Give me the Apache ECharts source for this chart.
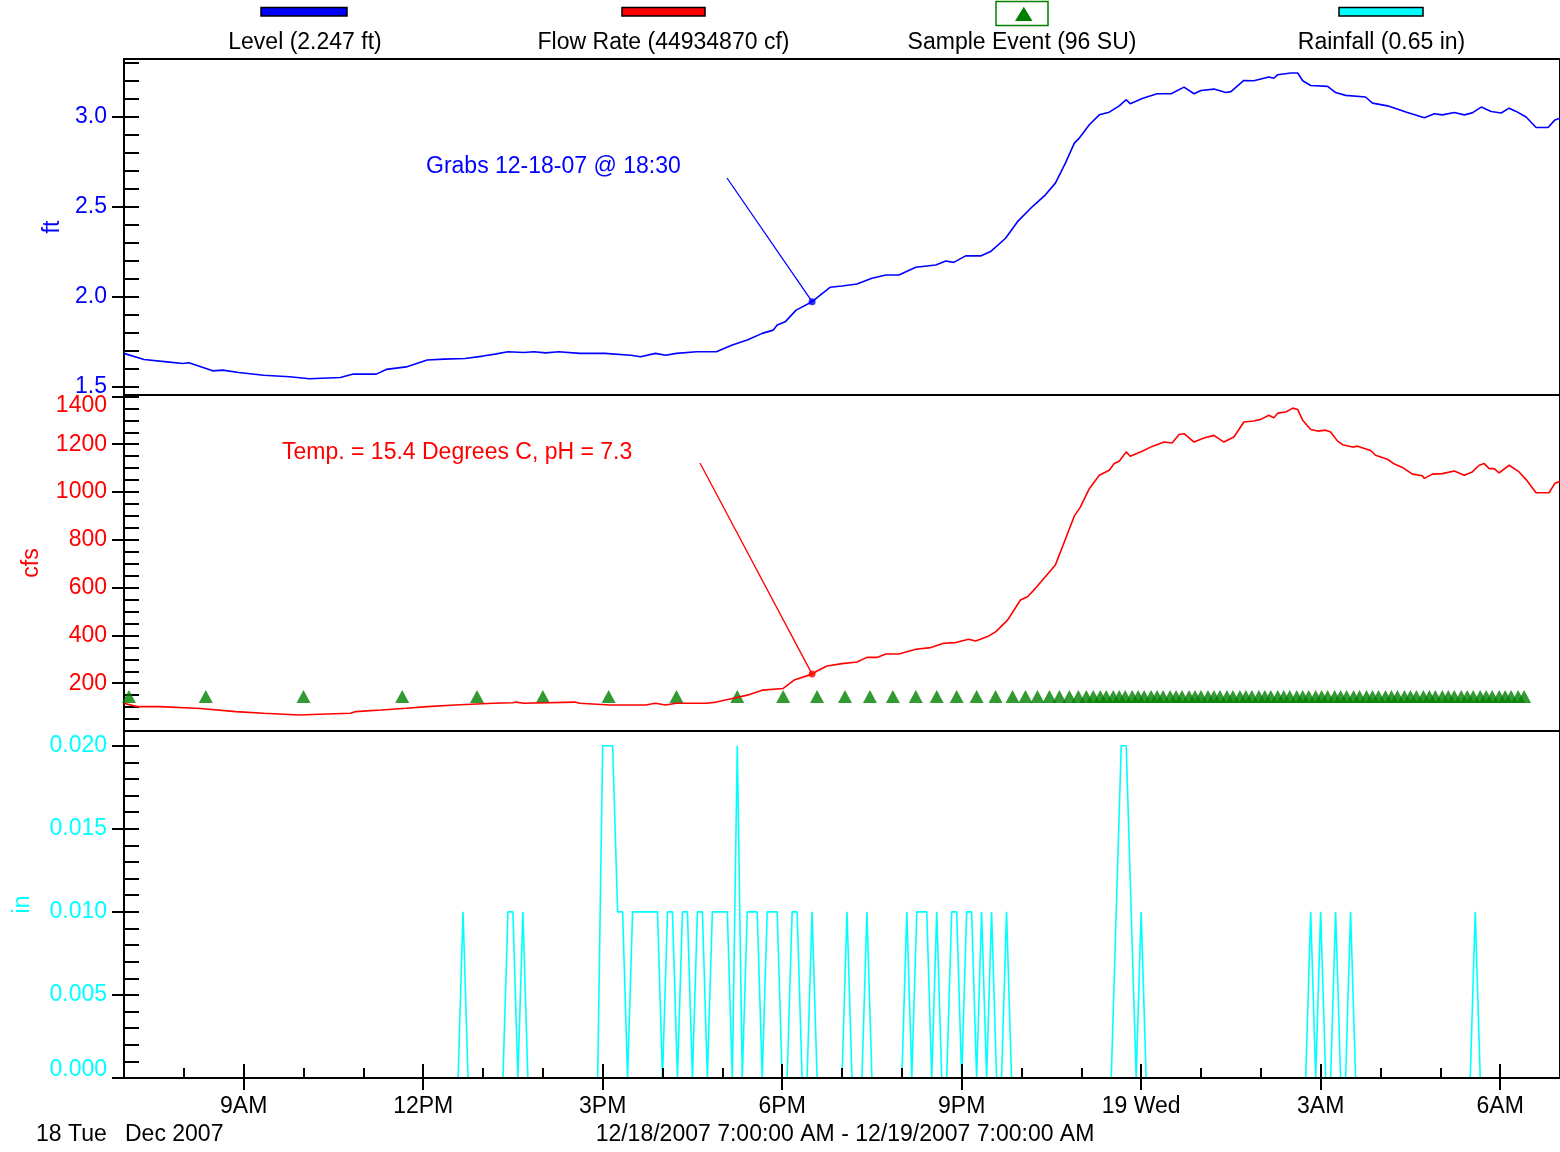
<!DOCTYPE html>
<html><head><meta charset="utf-8">
<script src="https://cdn.jsdelivr.net/npm/echarts@6/dist/echarts.min.js"></script>
<style>html,body{margin:0;padding:0;background:#fff}#c{width:1560px;height:1152px}</style>
</head><body><div id="c"></div>
<script>
// ---- data (minutes after 12/18/2007 7:00 AM) ----
const levelMinutes = [0,20,43,59,65,89,99,115,140,166,186,217,230,253,263,283,304,321,342,360,372,385,401,411,423,436,457,482,508,518,533,543,554,574,594,610,625,640,651,655,663,674,690,708,720,735,750,764,777,794,814,824,832,844,859,869,884,896,911,924,934,944,953,958,968,978,988,998,1005,1009,1021,1036,1050,1063,1073,1080,1093,1105,1110,1123,1133,1148,1153,1157,1170,1177,1182,1190,1207,1215,1225,1245,1252,1267,1287,1304,1314,1322,1334,1344,1352,1361,1371,1381,1389,1396,1406,1416,1428,1435,1440];
const levelFt = [1.685,1.651,1.638,1.629,1.633,1.588,1.592,1.579,1.564,1.555,1.544,1.551,1.570,1.570,1.596,1.610,1.648,1.653,1.657,1.670,1.681,1.694,1.690,1.694,1.688,1.694,1.685,1.685,1.675,1.666,1.685,1.675,1.685,1.694,1.694,1.731,1.759,1.796,1.814,1.842,1.860,1.925,1.972,2.052,2.059,2.070,2.102,2.120,2.120,2.163,2.176,2.198,2.190,2.226,2.226,2.250,2.324,2.416,2.500,2.565,2.630,2.741,2.852,2.880,2.954,3.009,3.024,3.059,3.093,3.071,3.100,3.126,3.126,3.163,3.126,3.144,3.152,3.133,3.138,3.200,3.198,3.219,3.212,3.232,3.241,3.241,3.198,3.172,3.167,3.133,3.117,3.108,3.074,3.059,3.022,2.993,3.015,3.009,3.022,3.009,3.020,3.052,3.028,3.019,3.046,3.028,2.997,2.939,2.939,2.981,2.990];

const flowMinutes = [0,13,36,38,77,79,112,140,176,196,227,232,258,283,304,332,370,390,393,401,452,457,487,523,533,543,554,584,594,610,625,640,661,672,690,695,705,720,735,745,755,764,777,794,809,822,834,847,854,866,874,886,899,906,914,934,941,953,959,968,978,988,993,998,1005,1009,1021,1031,1043,1051,1058,1063,1073,1083,1093,1103,1113,1123,1133,1140,1148,1153,1157,1165,1172,1177,1182,1190,1197,1205,1210,1217,1222,1232,1237,1250,1255,1267,1274,1282,1292,1302,1304,1312,1322,1334,1344,1352,1359,1364,1369,1374,1379,1389,1399,1406,1416,1429,1435,1440];
const flowCfs = [116,102,102,94,94,88,81,74,67,70,74,81,88,95,102,109,116,118,121,116,121,116,109,109,116,109,116,116,121,136,150,171,178,213,238,251,272,282,289,308,308,322,322,342,349,367,370,384,377,395,415,464,548,562,597,695,770,900,937,1014,1070,1091,1119,1129,1168,1150,1171,1191,1209,1205,1241,1244,1209,1226,1237,1209,1230,1293,1297,1304,1321,1311,1330,1335,1351,1345,1300,1262,1255,1259,1251,1213,1198,1188,1192,1174,1154,1137,1117,1103,1075,1068,1057,1075,1077,1088,1070,1084,1112,1119,1098,1098,1080,1112,1084,1052,997,997,1037,1045];

const sampleMinutes = [5,82,180,279,354,420,486,554,615,661,695,723,748,771,794,815,835,855,874,891,904,916,928,938,948,957,965,972,979,985,992,998,1004,1011,1017,1023,1030,1036,1042,1049,1055,1061,1068,1074,1080,1087,1093,1099,1106,1112,1119,1125,1131,1138,1144,1150,1157,1163,1169,1176,1182,1188,1195,1201,1207,1214,1220,1226,1233,1239,1246,1252,1258,1265,1271,1277,1284,1290,1296,1303,1309,1315,1322,1328,1334,1341,1347,1353,1360,1366,1372,1379,1385,1391,1398,1404];
const sampleMarkerCfs = 144;

const rainMinutes = [0,335,340,345,380,385,390,395,400,405,475,480,490,495,500,505,510,535,540,545,550,555,560,565,570,575,580,585,590,605,610,615,620,625,635,640,645,655,660,665,670,675,680,685,690,695,720,725,730,740,745,750,780,785,790,795,805,810,815,820,825,830,835,840,845,850,855,860,865,870,875,880,885,890,990,1000,1005,1015,1020,1025,1185,1190,1195,1200,1205,1210,1215,1220,1225,1230,1235,1350,1355,1360,1440];
const rainInches = [0,0,0.01,0,0,0.01,0.01,0,0.01,0,0,0.02,0.02,0.01,0.01,0,0.01,0.01,0,0.01,0.01,0,0.01,0.01,0,0.01,0.01,0,0.01,0.01,0,0.02,0,0.01,0.01,0,0.01,0.01,0,0,0.01,0.01,0,0,0.01,0,0,0.01,0,0,0.01,0,0,0.01,0,0.01,0.01,0,0.01,0,0,0.01,0.01,0,0.01,0.01,0,0.01,0,0.01,0,0,0.01,0,0,0.02,0.02,0,0.01,0,0,0.01,0,0.01,0,0,0.01,0,0,0.01,0,0,0.01,0,0];

const grabMinute = 690;
const xTickMinutes = [120,300,480,660,840,1020,1200,1380];
const xTickLabels = ['9AM','12PM','3PM','6PM','9PM','19 Wed','3AM','6AM'];
const levelLabelValues = [1.5,2.0,2.5,3.0];
const flowLabelValues = [200,400,600,800,1000,1200,1400];
const rainLabelValues = [0,0.005,0.010,0.015,0.020];
const legendLabels = ['Level (2.247 ft)','Flow Rate (44934870 cf)','Sample Event (96 SU)','Rainfall (0.65 in)'];
const grabLevelText = 'Grabs 12-18-07 @ 18:30';
const grabFlowText = 'Temp. = 15.4 Degrees C, pH = 7.3';
const dayText = '18 Tue';
const monthText = 'Dec 2007';
const rangeText = '12/18/2007 7:00:00 AM - 12/19/2007 7:00:00 AM';

// ---- helpers ----
const FONT = "'Liberation Sans', Arial, sans-serif";
const BLUE = '#0000ff', RED = '#ff0000', CYAN = '#00ffff', GREEN = '#008000';
function steps(from, to, step){ const a=[]; const n=Math.round((to-from)/step); for(let i=0;i<=n;i++) a.push(+(from+i*step).toFixed(6)); return a; }
function hourTicks(){ const a=[]; for(let h=1;h<24;h++) a.push(h*60); return a; }
const zip = (xs, ys) => xs.map((x,i)=>[x, ys[i]]);
const tickStyle = {color:'#000', width:2};

const chart = echarts.init(document.getElementById('c'), null, {renderer:'canvas'});

function mainY(grid, min, max, minor, labels, color, fmt, name, gap, rich){
  return {gridIndex:grid, type:'value', position:'left', min:min, max:max,
    name:name, nameLocation:'middle', nameGap:gap, nameRotate:90,
    nameTextStyle:{color:color, fontSize:23, fontFamily:FONT},
    axisLine:{show:true, lineStyle:tickStyle},
    axisTick:{show:true, inside:true, length:15, customValues:minor, lineStyle:tickStyle},
    axisLabel:{show:true, customValues:labels, color:color, fontSize:23, fontFamily:FONT, margin:17, formatter:fmt, rich:rich||{}},
    splitLine:{show:false}};
}
function outerY(grid, min, max, labels){
  return {gridIndex:grid, type:'value', position:'left', min:min, max:max,
    axisLine:{show:false},
    axisTick:{show:true, inside:false, length:12, customValues:labels, lineStyle:tickStyle},
    axisLabel:{show:false}, splitLine:{show:false}};
}
const gridBox = {left:124, width:1440, show:true, borderColor:'#000', borderWidth:2, backgroundColor:'transparent'};

const option = {
  animation:false,
  backgroundColor:'#fff',
  grid:[
    Object.assign({top:59, height:336}, gridBox),
    Object.assign({top:395, height:336}, gridBox),
    Object.assign({top:731, height:347}, gridBox)
  ],
  xAxis:[
    {gridIndex:0, type:'value', min:0, max:1440, show:false},
    {gridIndex:1, type:'value', min:0, max:1440, show:false},
    {gridIndex:2, type:'value', min:0, max:1440, position:'bottom', z:5,
      axisLine:{show:true, lineStyle:tickStyle},
      axisTick:{show:true, inside:true, length:10, customValues:hourTicks(), lineStyle:tickStyle},
      axisLabel:{show:false}, splitLine:{show:false}},
    {gridIndex:2, type:'value', min:0, max:1440, position:'bottom', z:5,
      axisLine:{show:false},
      axisTick:{show:true, inside:true, length:14, customValues:xTickMinutes, lineStyle:tickStyle},
      axisLabel:{show:true, customValues:xTickMinutes, formatter:v=>xTickLabels[xTickMinutes.indexOf(v)],
        color:'#000', fontSize:23, fontFamily:FONT, margin:17},
      splitLine:{show:false}},
    {gridIndex:2, type:'value', min:0, max:1440, position:'bottom', z:5,
      axisLine:{show:false},
      axisTick:{show:true, inside:false, length:12, customValues:xTickMinutes, lineStyle:tickStyle},
      axisLabel:{show:false}, splitLine:{show:false}}
  ],
  yAxis:[
    mainY(0, 1.454, 3.319, steps(1.5,3.3,0.1), levelLabelValues, BLUE, v=>v.toFixed(1), 'ft', 60),
    outerY(0, 1.454, 3.319, levelLabelValues),
    mainY(1, 0, 1406, steps(50,1400,50), flowLabelValues, RED, v=> v===1400 ? '{n|1400}' : String(v), 'cfs', 81,
      {n:{padding:[18,0,0,0], color:RED, fontSize:23, fontFamily:FONT}}),
    outerY(1, 0, 1406, flowLabelValues),
    mainY(2, 0, 0.020886, steps(0,0.02,0.001), rainLabelValues, CYAN, v=> v===0 ? '{n|0.000}' : v.toFixed(3), 'in', 90,
      {n:{padding:[0,0,16,0], color:CYAN, fontSize:23, fontFamily:FONT}}),
    outerY(2, 0, 0.020886, rainLabelValues)
  ],
  series:[
    {name:'Level', type:'line', xAxisIndex:0, yAxisIndex:0, data:zip(levelMinutes, levelFt),
      symbol:'none', lineStyle:{color:BLUE, width:1.6}, itemStyle:{color:BLUE}},
    {type:'scatter', xAxisIndex:0, yAxisIndex:0, symbol:'circle', symbolSize:7,
      data:[[grabMinute, levelFt[levelMinutes.indexOf(grabMinute)]]], itemStyle:{color:BLUE}},
    {name:'Flow Rate', type:'line', xAxisIndex:1, yAxisIndex:2, data:zip(flowMinutes, flowCfs),
      symbol:'none', lineStyle:{color:RED, width:1.6}, itemStyle:{color:RED}},
    {type:'scatter', xAxisIndex:1, yAxisIndex:2, symbol:'circle', symbolSize:7,
      data:[[grabMinute, flowCfs[flowMinutes.indexOf(grabMinute)]]], itemStyle:{color:RED}},
    {name:'Sample Event', type:'scatter', xAxisIndex:1, yAxisIndex:2, symbol:'triangle', symbolSize:[14,13],
      data:sampleMinutes.map(m=>[m, sampleMarkerCfs]), itemStyle:{color:GREEN}},
    {name:'Rainfall', type:'line', xAxisIndex:2, yAxisIndex:4, z:1, data:zip(rainMinutes, rainInches),
      symbol:'none', lineStyle:{color:CYAN, width:1.6}, itemStyle:{color:CYAN}}
  ]
};
chart.setOption(option);

// ---- annotations, legend and footer text ----
const pLevel = chart.convertToPixel({xAxisIndex:0, yAxisIndex:0}, [grabMinute, levelFt[levelMinutes.indexOf(grabMinute)]]);
const pFlow = chart.convertToPixel({xAxisIndex:1, yAxisIndex:2}, [grabMinute, flowCfs[flowMinutes.indexOf(grabMinute)]]);
function txt(text, x, y, color, align){
  return {type:'text', x:x, y:y, z:10, style:{text:text, font:'23px ' + FONT, fill:color, textAlign:align||'center', textVerticalAlign:'middle'}};
}
const graphics = [
  {type:'rect', z:10, shape:{x:261, y:7.5, width:86, height:8.5}, style:{fill:BLUE, stroke:'#000', lineWidth:1.5}},
  {type:'rect', z:10, shape:{x:622, y:7.5, width:83, height:8.5}, style:{fill:RED, stroke:'#000', lineWidth:1.5}},
  {type:'rect', z:10, shape:{x:996, y:1.5, width:52, height:24}, style:{fill:'none', stroke:GREEN, lineWidth:1.5}},
  {type:'polygon', z:10, shape:{points:[[1015,21],[1032.5,21],[1023.8,6.7]]}, style:{fill:GREEN}},
  {type:'rect', z:10, shape:{x:1339, y:7.5, width:84, height:8.5}, style:{fill:CYAN, stroke:'#000', lineWidth:1.5}},
  txt(legendLabels[0], 305, 43, '#000'),
  txt(legendLabels[1], 663.5, 43, '#000'),
  txt(legendLabels[2], 1022, 43, '#000'),
  txt(legendLabels[3], 1381.5, 43, '#000'),
  txt(grabLevelText, 426, 167, BLUE, 'left'),
  txt(grabFlowText, 282, 453, RED, 'left'),
  {type:'line', z:10, shape:{x1:727, y1:178, x2:pLevel[0], y2:pLevel[1]}, style:{stroke:BLUE, lineWidth:1.3}},
  {type:'line', z:10, shape:{x1:700, y1:463, x2:pFlow[0], y2:pFlow[1]}, style:{stroke:RED, lineWidth:1.3}},
  txt(dayText, 36, 1135, '#000', 'left'),
  txt(monthText, 125, 1135, '#000', 'left'),
  txt(rangeText, 845, 1135, '#000', 'center')
];
chart.setOption({graphic: graphics});
</script></body></html>
